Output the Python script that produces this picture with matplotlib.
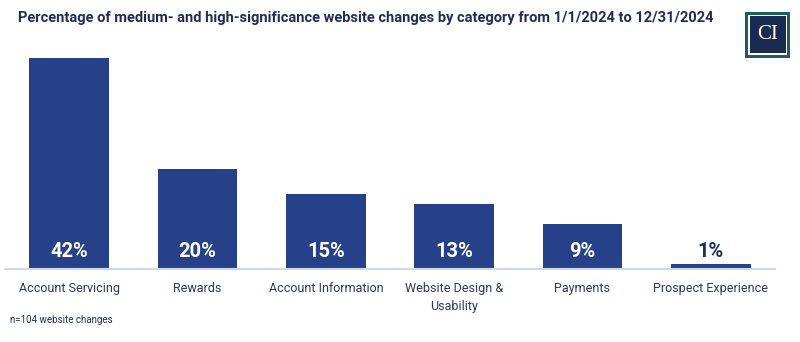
import matplotlib.pyplot as plt
from matplotlib.patches import Rectangle

categories = ['Account Servicing', 'Rewards', 'Account Information',
              'Website Design &\nUsability', 'Payments', 'Prospect Experience']
values = [42, 20, 15, 13, 9, 1]

navy = '#26418a'
text_navy = '#1f2d5c'

plt.rcParams['font.family'] = ['Roboto', 'DejaVu Sans']

fig = plt.figure(figsize=(8, 3.42), dpi=100)
ax = fig.add_axes([0.00625, 0.2135, 0.9625, 0.646])

x = range(len(values))
bars = ax.bar(x, values, width=0.62, color=navy, zorder=2)

for xi, v in zip(x, values):
    if v >= 5:
        ax.text(xi, 3.5, f'{v}%', ha='center', va='center', color='white',
                fontsize=14.5, fontweight='bold')
    else:
        ax.text(xi, v + 2.5, f'{v}%', ha='center', va='center', color=text_navy,
                fontsize=14.5, fontweight='bold')

ax.set_xlim(-0.5, 5.5)
ax.set_ylim(0, 44)
ax.set_xticks(list(x))
ax.set_xticklabels(categories, fontsize=9, color='#27376b', linespacing=1.45)
ax.tick_params(axis='x', length=0, pad=9.5)
ax.set_yticks([])
for s in ['top', 'right', 'left']:
    ax.spines[s].set_visible(False)
ax.spines['bottom'].set_color('#cdd7ee')
ax.spines['bottom'].set_linewidth(1.5)

fig.text(18 / 800, 1 - 18 / 342, 'Percentage of medium- and high-significance website changes by category from 1/1/2024 to 12/31/2024',
         ha='left', va='center', fontsize=10.5, fontweight='bold', color=text_navy)
fig.text(10 / 800, 1 - 320 / 342, 'n=104 website changes', ha='left', va='center',
         fontsize=7, color=text_navy)

# logo
lx, ly, lw, lh = 745 / 800, 1 - 58 / 342, 45 / 800, 46 / 342
fig.patches.append(Rectangle((lx, ly), lw, lh, transform=fig.transFigure,
                             facecolor='#1d5f5b', edgecolor='none'))
fig.patches.append(Rectangle((lx + 3 / 800, ly + 3 / 342), lw - 6 / 800, lh - 6 / 342,
                             transform=fig.transFigure, facecolor='white', edgecolor='none'))
fig.patches.append(Rectangle((lx + 4.5 / 800, ly + 4.5 / 342), lw - 9 / 800, lh - 9 / 342,
                             transform=fig.transFigure, facecolor='#1b2a50', edgecolor='none'))
fig.text(lx + lw / 2, ly + lh / 2, 'CI', ha='center', va='center', color='white',
         fontsize=15, family='Liberation Serif')

fig.savefig('out.png', dpi=100)
